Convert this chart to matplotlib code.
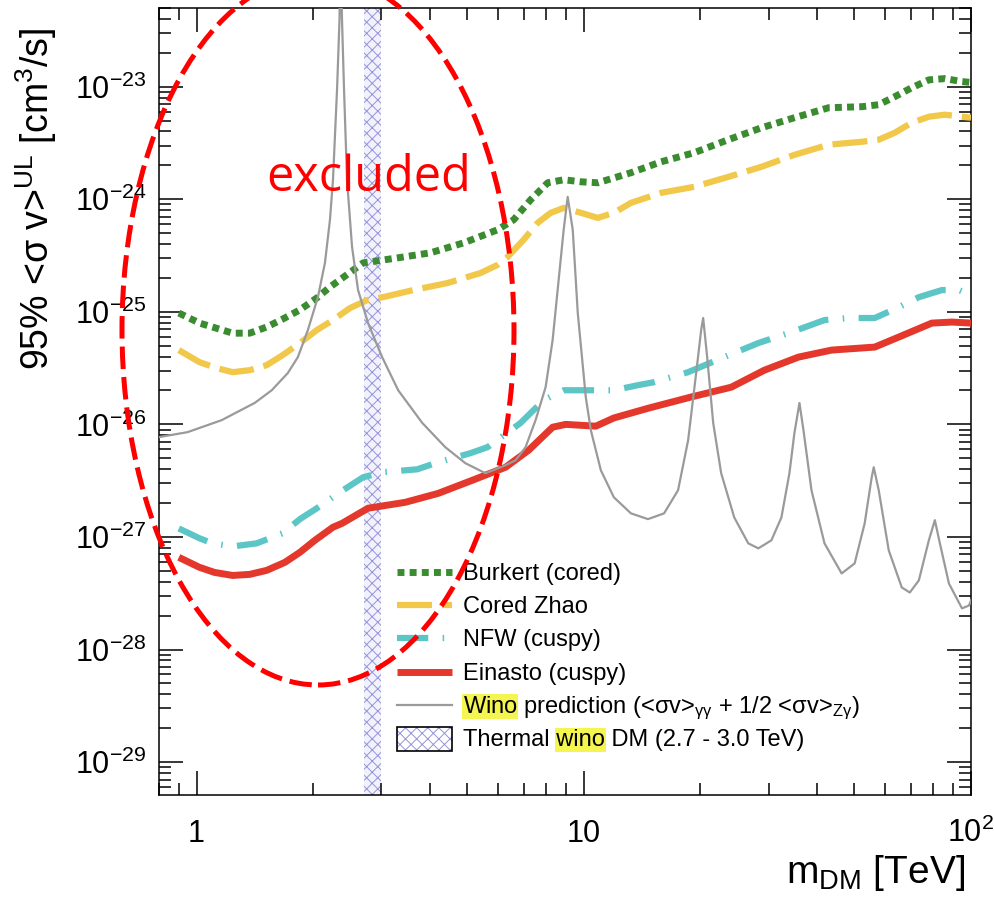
import numpy as np
import matplotlib
matplotlib.use('Agg')
import matplotlib.pyplot as plt
from matplotlib.patches import Ellipse, Rectangle
from matplotlib.lines import Line2D
from matplotlib.ticker import LogLocator, NullFormatter, LogFormatterSciNotation, FixedLocator

plt.rcParams['font.family'] = ['Liberation Sans', 'DejaVu Sans']
plt.rcParams['mathtext.fontset'] = 'custom'
plt.rcParams['mathtext.rm'] = 'Liberation Sans'
plt.rcParams['mathtext.it'] = 'Liberation Sans:italic'
plt.rcParams['mathtext.bf'] = 'Liberation Sans:bold'
plt.rcParams['mathtext.sf'] = 'Liberation Sans'
plt.rcParams['hatch.linewidth'] = 0.7

# ---------------- data ----------------
burkert_x = [0.9, 1.018, 1.24, 1.372, 1.518, 1.67, 1.849, 2.046, 2.211, 2.692, 3.297, 4.014, 4.888,
             5.988, 6.588, 7.29, 8.069, 8.877, 9.82, 10.87, 13.24, 15.83, 19.28, 23.61, 28.74, 34.99,
             42.87, 52.2, 57.77, 63.56, 70.36, 77.86, 85.62, 94.78, 100]
burkert_y = [9.75e-26, 7.94e-26, 6.46e-26, 6.46e-26, 7.33e-26, 8.63e-26, 1.04e-25, 1.33e-25, 1.66e-25,
             2.72e-25, 3.01e-25, 3.34e-25, 4.09e-25, 5.35e-25, 6.56e-25, 9.89e-25, 1.40e-24, 1.49e-24,
             1.43e-24, 1.40e-24, 1.72e-24, 2.15e-24, 2.59e-24, 3.38e-24, 4.31e-24, 5.30e-24, 6.50e-24,
             6.64e-24, 6.92e-24, 8.15e-24, 9.80e-24, 1.15e-23, 1.18e-23, 1.11e-23, 1.09e-23]

zhao_x = [0.9, 1.018, 1.127, 1.24, 1.372, 1.518, 1.67, 1.849, 2.046, 2.251, 2.491, 2.757, 3.033, 3.627,
          4.443, 5.409, 5.988, 6.356, 6.992, 7.601, 8.214, 8.877, 9.65, 10.87, 11.96, 13.24, 15.83,
          19.28, 23.61, 28.74, 34.99, 42.87, 52.2, 57.77, 63.56, 70.36, 77.86, 85.62, 94.78, 100]
zhao_y = [4.57e-26, 3.57e-26, 3.16e-26, 2.91e-26, 3.03e-26, 3.36e-26, 4.13e-26, 5.28e-26, 6.89e-26,
          8.45e-26, 1.08e-25, 1.27e-25, 1.35e-25, 1.56e-25, 1.80e-25, 2.21e-25, 2.61e-25, 3.07e-25,
          4.36e-25, 6.17e-25, 7.57e-25, 8.38e-25, 7.72e-25, 6.83e-25, 7.57e-25, 9.29e-25, 1.14e-24,
          1.29e-24, 1.58e-24, 1.94e-24, 2.48e-24, 3.05e-24, 3.24e-24, 3.38e-24, 3.90e-24, 4.79e-24,
          5.41e-24, 5.64e-24, 5.41e-24, 5.30e-24]

nfw_x = [0.9, 1.018, 1.10, 1.24, 1.43, 1.67, 1.849, 2.046, 2.389, 2.692, 3.033, 3.715, 4.136, 5.096,
         5.641, 6.868, 7.878, 8.877, 10.74, 11.96, 13.80, 15.18, 18.60, 23.05, 28.24, 34.39, 41.87,
         48.30, 56.42, 65.10, 73.35, 84.13, 93.09, 100]
nfw_y = [1.19e-27, 9.73e-28, 8.77e-28, 8.24e-28, 8.77e-28, 1.08e-27, 1.44e-27, 1.80e-27, 2.60e-27,
         3.39e-27, 3.76e-27, 3.99e-27, 4.52e-27, 5.55e-27, 6.27e-27, 1.03e-26, 1.64e-26, 2.01e-26,
         2.01e-26, 2.01e-26, 2.23e-26, 2.37e-26, 2.91e-26, 3.96e-26, 5.28e-26, 6.61e-26, 8.45e-26,
         8.81e-26, 8.81e-26, 1.10e-25, 1.35e-25, 1.56e-25, 1.56e-25, 1.41e-25]

einasto_x = [0.9, 1.018, 1.113, 1.24, 1.372, 1.518, 1.69, 1.849, 2.021, 2.251, 2.375, 2.773, 3.458,
             4.211, 5.158, 6.281, 7.203, 8.31, 8.982, 10.74, 11.96, 14.65, 18.93, 24.04, 29.27, 35.85,
             43.64, 56.42, 65.10, 79.24, 89.30, 100]
einasto_y = [6.59e-28, 5.37e-28, 4.84e-28, 4.55e-28, 4.65e-28, 5.05e-28, 5.94e-28, 7.30e-28, 9.33e-28,
             1.22e-27, 1.32e-27, 1.80e-27, 2.03e-27, 2.44e-27, 3.19e-27, 4.16e-27, 5.89e-27, 9.44e-27,
             1.00e-26, 9.64e-27, 1.14e-26, 1.39e-26, 1.75e-26, 2.14e-26, 3.03e-26, 3.96e-26, 4.57e-26,
             4.86e-26, 5.97e-26, 7.94e-26, 8.11e-26, 7.94e-26]

wino_x = [0.797, 0.948, 1.161, 1.413, 1.564, 1.721, 1.827, 1.939, 2.058, 2.146, 2.211, 2.251, 2.306,
          2.340, 2.354, 2.375, 2.404, 2.447, 2.521, 2.613, 2.773, 3.015, 3.317, 3.828, 4.390, 4.947,
          5.574, 6.281, 6.666, 7.074, 7.508, 7.970, 8.310, 8.613, 8.874, 9.089, 9.366, 9.650, 10.12,
          10.43, 11.07, 11.96, 13.24, 14.65, 16.12, 17.52, 18.60, 19.51, 20.10, 20.34, 20.83, 21.59,
          22.64, 24.47, 26.60, 28.24, 30.51, 32.39, 33.97, 34.99, 36.06, 36.93, 38.73, 41.85, 46.34,
          50.06, 53.14, 55.41, 56.08, 57.77, 61.32, 66.26, 69.50, 73.33, 77.83, 80.66, 83.11, 87.70,
          94.78, 98.81, 100]
wino_y = [7.69e-27, 8.53e-27, 1.09e-26, 1.55e-26, 2.01e-26, 2.86e-26, 3.96e-26, 6.89e-26, 1.35e-25,
          2.72e-25, 6.56e-25, 1.49e-24, 9.40e-24, 3.95e-23, 1.5e-22, 3.95e-23, 9.40e-24, 1.49e-24,
          3.78e-25, 1.56e-25, 7.94e-26, 3.96e-26, 2.01e-26, 1.03e-26, 6.27e-27, 4.52e-27, 3.68e-27,
          4.34e-27, 4.80e-27, 6.27e-27, 1.09e-26, 2.14e-26, 5.61e-26, 1.92e-25, 5.35e-25, 1.05e-24,
          5.35e-25, 9.75e-26, 1.75e-26, 8.87e-27, 3.91e-27, 2.25e-27, 1.62e-27, 1.44e-27, 1.62e-27,
          2.60e-27, 7.23e-27, 2.86e-26, 6.89e-26, 8.81e-26, 3.96e-26, 1.03e-26, 3.68e-27, 1.49e-27,
          8.77e-28, 7.92e-28, 9.33e-28, 1.49e-27, 3.68e-27, 8.36e-27, 1.55e-26, 8.87e-27, 2.60e-27,
          8.77e-28, 4.74e-28, 5.82e-28, 1.32e-27, 3.39e-27, 4.16e-27, 2.60e-27, 7.60e-28, 3.56e-28,
          3.21e-28, 4.11e-28, 9.33e-28, 1.41e-27, 8.77e-28, 3.86e-28, 2.32e-28, 2.46e-28, 2.73e-28]

thermal_band = [2.7, 3.0]

labels = ["Burkert (cored)", "Cored Zhao", "NFW (cuspy)", "Einasto (cuspy)",
          "Wino prediction (<σv>$_{\\mathregular{γγ}}$ + 1/2 <σv>$_{\\mathregular{Zγ}}$)",
          "Thermal wino DM (2.7 - 3.0 TeV)"]

xtick_vals = [1, 10, 100]
xtick_labels = ["1", "10", "$\\mathregular{10^{2}}$"]

# ---------------- styles ----------------
c_green = '#3b8c30'
c_yellow = '#f2c84b'
c_cyan = '#5cc6c6'
c_red = '#e3382b'
c_gray = '#9a9a9a'
hatch_col = (0.58, 0.58, 0.86)

fig = plt.figure(figsize=(9.94, 9.02), dpi=100)
ax = fig.add_axes([159/994, 1-795/902, 812/994, 787/902])
ax.set_xscale('log')
ax.set_yscale('log')
ax.set_xlim(0.8, 100)
ax.set_ylim(5.1e-30, 5.0e-23)

ax.axvspan(thermal_band[0], thermal_band[1], facecolor=(0.95, 0.95, 0.99), edgecolor=hatch_col,
           hatch='xxx', linewidth=0, zorder=1)

styles = [
    dict(color=c_green, lw=5.0, ls=(0, (1.0, 0.75)), dash_capstyle='butt'),
    dict(color=c_yellow, lw=4.5, ls=(0, (5.6, 1.6)), dash_capstyle='butt'),
    dict(color=c_cyan, lw=4.5, ls=(0, (5.0, 2.3, 0.25, 2.3)), dash_capstyle='butt'),
    dict(color=c_red, lw=5.0, ls='-', solid_capstyle='butt'),
    dict(color=c_gray, lw=1.6, ls='-'),
]
series = [(burkert_x, burkert_y), (zhao_x, zhao_y), (nfw_x, nfw_y), (einasto_x, einasto_y),
          (wino_x, wino_y)]
zorders = [3, 3, 3, 3, 4]
for (xs, ys), st, z in zip(series, styles, zorders):
    ax.plot(xs, ys, zorder=z, solid_joinstyle='round', **st)

# ticks
ax.xaxis.set_major_locator(FixedLocator(xtick_vals))
ax.set_xticklabels(xtick_labels)
ax.xaxis.set_minor_locator(LogLocator(base=10, subs=np.arange(2, 10), numticks=50))
ax.xaxis.set_minor_formatter(NullFormatter())
ax.yaxis.set_major_locator(LogLocator(base=10, numticks=30))
ax.yaxis.set_major_formatter(LogFormatterSciNotation())
ax.yaxis.set_minor_locator(LogLocator(base=10, subs=np.arange(2, 10), numticks=50))
ax.yaxis.set_minor_formatter(NullFormatter())
ax.tick_params(which='both', direction='in', top=True, right=True, width=1.1, labelsize=22)
ax.tick_params(which='major', length=17)
ax.tick_params(which='minor', length=8.5)
ax.tick_params(axis='y', pad=9)
ax.tick_params(axis='x', pad=34)
for lbl in ax.get_xticklabels():
    lbl.set_verticalalignment('baseline')
for sp in ax.spines.values():
    sp.set_linewidth(1.1)

# axis titles
fig.text(0.036, 0.969, "95% <σ v>$^{\\mathregular{UL}}$ [cm$^{\\mathregular{3}}$/s]", rotation=90,
         ha='center', va='top', fontsize=27)
fig.text(965/994, 1-883/902, "m$_{\\mathregular{DM}}$ [TeV]", ha='right', va='baseline', fontsize=28)

# legend (manual)
def ax_x(px):
    return (px - 159) / 812.0

def ax_y(py):
    return (795 - py) / 787.0

row_py = [572 + 33.2 * i for i in range(6)]
hx0, hx1, tx = ax_x(397), ax_x(452), ax_x(463)
for i, st in enumerate(styles):
    ax.add_line(Line2D([hx0, hx1], [ax_y(row_py[i])] * 2, transform=ax.transAxes, zorder=6, **st))
# thermal box
bx, by = ax_x(397), ax_y(751)
bw, bh = ax_x(452) - ax_x(397), ax_y(727) - ax_y(751)
ax.add_patch(Rectangle((bx, by), bw, bh, transform=ax.transAxes, facecolor='white', edgecolor=hatch_col,
                       hatch='xxx', linewidth=0, zorder=6))
ax.add_patch(Rectangle((bx, by), bw, bh, transform=ax.transAxes, facecolor='none', edgecolor='black',
                       linewidth=1.2, zorder=6.5))

hl = dict(boxstyle='square,pad=0.06', facecolor='#f5f552', edgecolor='none')
fs_leg = 17
for i, lab in enumerate(labels):
    ax.text(tx, ax_y(row_py[i] + 8), lab, transform=ax.transAxes, fontsize=fs_leg, va='baseline',
            ha='left', zorder=7)
# highlights
ax.text(tx, ax_y(row_py[4] + 8), "Wino", transform=ax.transAxes, fontsize=fs_leg, va='baseline',
        ha='left', color=(0, 0, 0, 0), bbox=hl, zorder=5.5)
t_pre = ax.text(tx, ax_y(row_py[5] + 8), "Thermal", transform=ax.transAxes, fontsize=fs_leg,
                va='baseline', ha='left', color=(0, 0, 0, 0), zorder=5.5)
ax.annotate("wino", xy=(1, 0), xycoords=t_pre, xytext=(0.278 * fs_leg, 0), textcoords='offset points',
            fontsize=fs_leg, va='bottom', ha='left', color=(0, 0, 0, 0), bbox=hl, zorder=5.5)

# annotation: red dashed ellipse and "excluded"
ell = Ellipse((318/994, 1-330/902), 392/994, 710/902, transform=fig.transFigure, fill=False,
              edgecolor='#ff0000', linewidth=3.6, linestyle=(0, (4.5, 1.6)), zorder=10, clip_on=False)
ax.add_patch(ell)
fig.text(369/994, 1-178/902, "excluded", color='#ff0000', fontsize=35, family='Open Sans',
         ha='center', va='center', zorder=11)

fig.savefig('out.png', dpi=100)
